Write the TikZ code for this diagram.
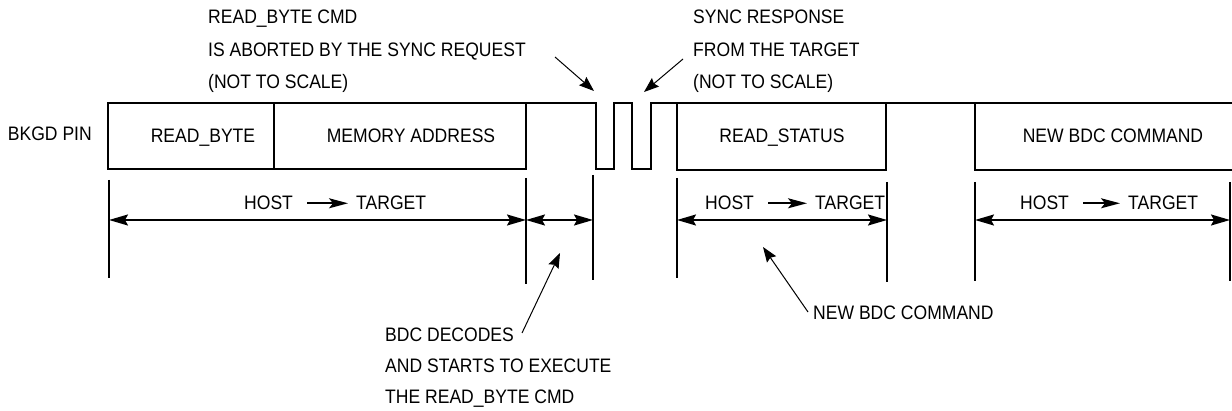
\documentclass[tikz,border=0pt]{standalone}
\usepackage{fontspec}
\setmainfont{Liberation Sans}[FakeStretch=0.9]
\usetikzlibrary{arrows.meta}
\begin{document}
\begin{tikzpicture}[x=1pt,y=-1pt,
  txt/.style={font=\fontsize{19.5}{23}\selectfont, inner sep=0pt, text=black},
  wave/.style={line width=2.3pt, line join=miter, line cap=rect},
  tick/.style={line width=2pt},
  dim/.style={line width=1.8pt, {Stealth[length=19pt,width=11pt,inset=3pt]}-{Stealth[length=19pt,width=11pt,inset=3pt]}},
  note/.style={line width=1pt, -{Stealth[length=15pt,width=11pt,inset=2pt]}},
  dirarrow/.style={line width=1.7pt, -{Stealth[length=19pt,width=10pt,inset=4pt]}, shorten <=14pt, shorten >=8pt}]
\useasboundingbox (0,0) rectangle (1232,411);

% ---- waveform (BKGD pin) ----
\draw[wave] (108,169) -- (108,103) -- (596,103) -- (596,169) -- (614,169) -- (614,103)
  -- (632,103) -- (632,169) -- (651,169) -- (651,103) -- (1232,103);
\draw[wave] (108,169) -- (526,169) -- (526,103);
\draw[wave] (274,103) -- (274,169);
\draw[wave] (677,103) -- (677,170) -- (886,170) -- (886,103);
\draw[wave] (975,103) -- (975,170) -- (1232,170);

% ---- labels in the waveform ----
\node[txt, anchor=base east] (pin) at (92,141) {BKGD PIN};
\node[txt, anchor=base] (rb) at (203,143) {READ\_BYTE};
\node[txt, anchor=base] (ma) at (411,143) {MEMORY ADDRESS};
\node[txt, anchor=base] (rs) at (782,143) {READ\_STATUS};
\node[txt, anchor=base] (nb) at (1113,143) {NEW BDC COMMAND};

% ---- extension ticks ----
\coordinate (k1t) at (109,180); \coordinate (k1b) at (109,278);
\coordinate (k2t) at (526,178); \coordinate (k2b) at (526,284);
\coordinate (k3t) at (593,175); \coordinate (k3b) at (593,280);
\coordinate (k4t) at (677,178); \coordinate (k4b) at (677,278);
\coordinate (k5t) at (887,182); \coordinate (k5b) at (887,282);
\coordinate (k6t) at (975,182); \coordinate (k6b) at (975,281);
\coordinate (k7t) at (1230,182); \coordinate (k7b) at (1230,281);
\foreach \k in {1,...,7} {\draw[tick] (k\k t) -- (k\k b);}

% ---- dimension arrows ----
\coordinate (d1) at (109,220); \coordinate (d2) at (526,220);
\coordinate (d3) at (593,220); \coordinate (d4) at (677,220);
\coordinate (d5) at (887,220); \coordinate (d6) at (975,220);
\coordinate (d7) at (1230,220);
\draw[dim] (d1) -- (d2);
\draw[dim] (d2) -- (d3);
\draw[dim] (d4) -- (d5);
\draw[dim] (d6) -- (d7);

% ---- HOST -> TARGET labels ----
\node[txt, anchor=base west] (h1) at (244,210) {HOST};
\node[txt, anchor=base west] (g1) at (356,210) {TARGET};
\node[txt, anchor=base west] (h2) at (705,210) {HOST};
\node[txt, anchor=base west] (g2) at (815,210) {TARGET};
\node[txt, anchor=base west] (h3) at (1020,210) {HOST};
\node[txt, anchor=base west] (g3) at (1128,210) {TARGET};
\draw[dirarrow] (h1.east) -- (g1.west);
\draw[dirarrow] (h2.east) -- (g2.west);
\draw[dirarrow] (h3.east) -- (g3.west);

% ---- top-left note ----
\node[txt, anchor=base west] (a1) at (208,24) {READ\_BYTE CMD};
\node[txt, anchor=base west] (a2) at (208,57) {IS ABORTED BY THE SYNC REQUEST};
\node[txt, anchor=base west] (a3) at (208,89) {(NOT TO SCALE)};
\coordinate (a-tail) at (555,57);
\coordinate (a-tip) at (594,91);
\draw[note] (a-tail) -- (a-tip);

% ---- top-right note ----
\node[txt, anchor=base west] (b1) at (693,24) {SYNC RESPONSE};
\node[txt, anchor=base west] (b2) at (693,57) {FROM THE TARGET};
\node[txt, anchor=base west] (b3) at (693,89) {(NOT TO SCALE)};
\coordinate (b-tail) at (683,59);
\coordinate (b-tip) at (644,92);
\draw[note] (b-tail) -- (b-tip);

% ---- bottom-left note ----
\node[txt, anchor=base west] (c1) at (385,342) {BDC DECODES};
\node[txt, anchor=base west] (c2) at (385,373) {AND STARTS TO EXECUTE};
\node[txt, anchor=base west] (c3) at (385,404) {THE READ\_BYTE CMD};
\coordinate (c-tail) at (522,333);
\coordinate (c-tip) at (560,253);
\draw[note] (c-tail) -- (c-tip);

% ---- bottom-right note ----
\node[txt, anchor=base west] (e1) at (813,320) {NEW BDC COMMAND};
\coordinate (e-tail) at (808,312);
\coordinate (e-tip) at (763,247);
\draw[note] (e-tail) -- (e-tip);
\end{tikzpicture}
\end{document}
